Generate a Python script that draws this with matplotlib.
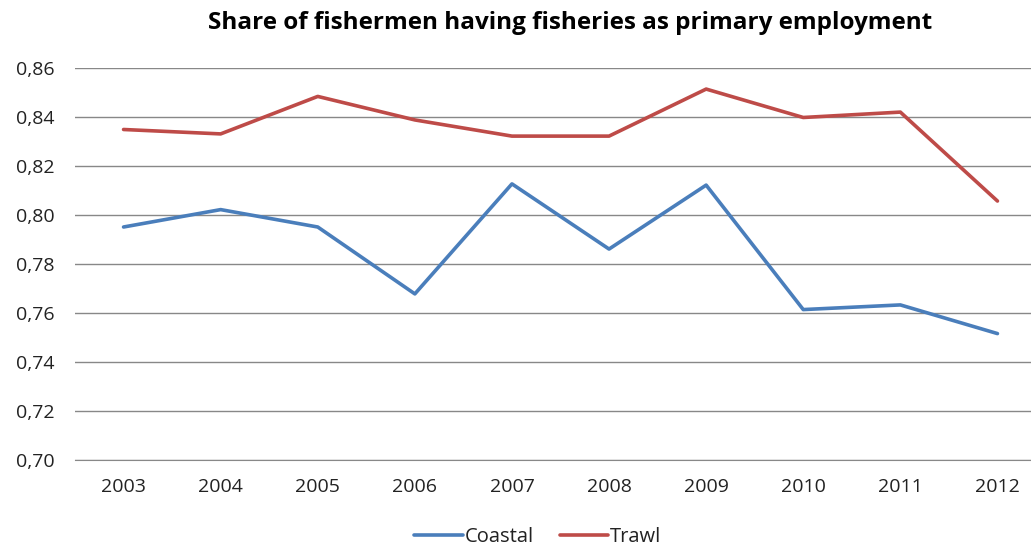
import matplotlib
matplotlib.use("Agg")
import matplotlib.pyplot as plt

years = ["2003", "2004", "2005", "2006", "2007", "2008", "2009", "2010", "2011", "2012"]
coastal = [0.7951, 0.8022, 0.7951, 0.7678, 0.8127, 0.7861, 0.8122, 0.7614, 0.7633, 0.7516]
trawl = [0.8349, 0.8331, 0.8484, 0.8388, 0.8322, 0.8322, 0.8514, 0.8398, 0.8420, 0.8057]
yticks = [0.70, 0.72, 0.74, 0.76, 0.78, 0.80, 0.82, 0.84, 0.86]

plt.rcParams['font.family'] = ['Open Sans', 'DejaVu Sans']

W, H = 1031, 546
fig = plt.figure(figsize=(W / 100, H / 100), dpi=100)
left_px, right_px, top_px, bot_px = 75, 1031, 68, 460
ax = fig.add_axes([left_px / W, (H - bot_px) / H, (right_px - left_px) / W, (bot_px - top_px) / H])

x = list(range(len(years)))
ax.plot(x, coastal, color="#4A7EBB", lw=2.6, label="Coastal", solid_capstyle="round", solid_joinstyle="round")
ax.plot(x, trawl, color="#BE4B48", lw=2.6, label="Trawl", solid_capstyle="round", solid_joinstyle="round")

step = 97.1
ax.set_xlim(-0.5, -0.5 + (right_px - left_px) / step)
ax.set_ylim(0.70, 0.86)
ax.set_yticks(yticks)
ax.set_yticklabels([f"{v:.2f}".replace(".", ",") for v in yticks])
ax.set_xticks(x)
ax.set_xticklabels(years)
ax.grid(axis="y", color="#888888", lw=1.0)
ax.set_axisbelow(True)
for s in ["left", "right", "top"]:
    ax.spines[s].set_visible(False)
ax.spines["bottom"].set_color("#888888")
ax.tick_params(axis="both", length=0, labelsize=14, colors="#222222")
ax.tick_params(axis="y", pad=15)
ax.tick_params(axis="x", pad=13)

fig.text(0.553, 0.958, "Share of fishermen having fisheries as primary employment",
         ha="center", va="center", fontsize=17.5, fontweight="bold", color="black")

leg = fig.legend(loc="center", bbox_to_anchor=(538 / W, 1 - 537 / H), ncol=2, frameon=False,
                 fontsize=14.5, handlelength=2.4, handletextpad=0.1, columnspacing=1.3)
for t in leg.get_texts():
    t.set_color("#222222")

fig.savefig("out.png", dpi=100)
